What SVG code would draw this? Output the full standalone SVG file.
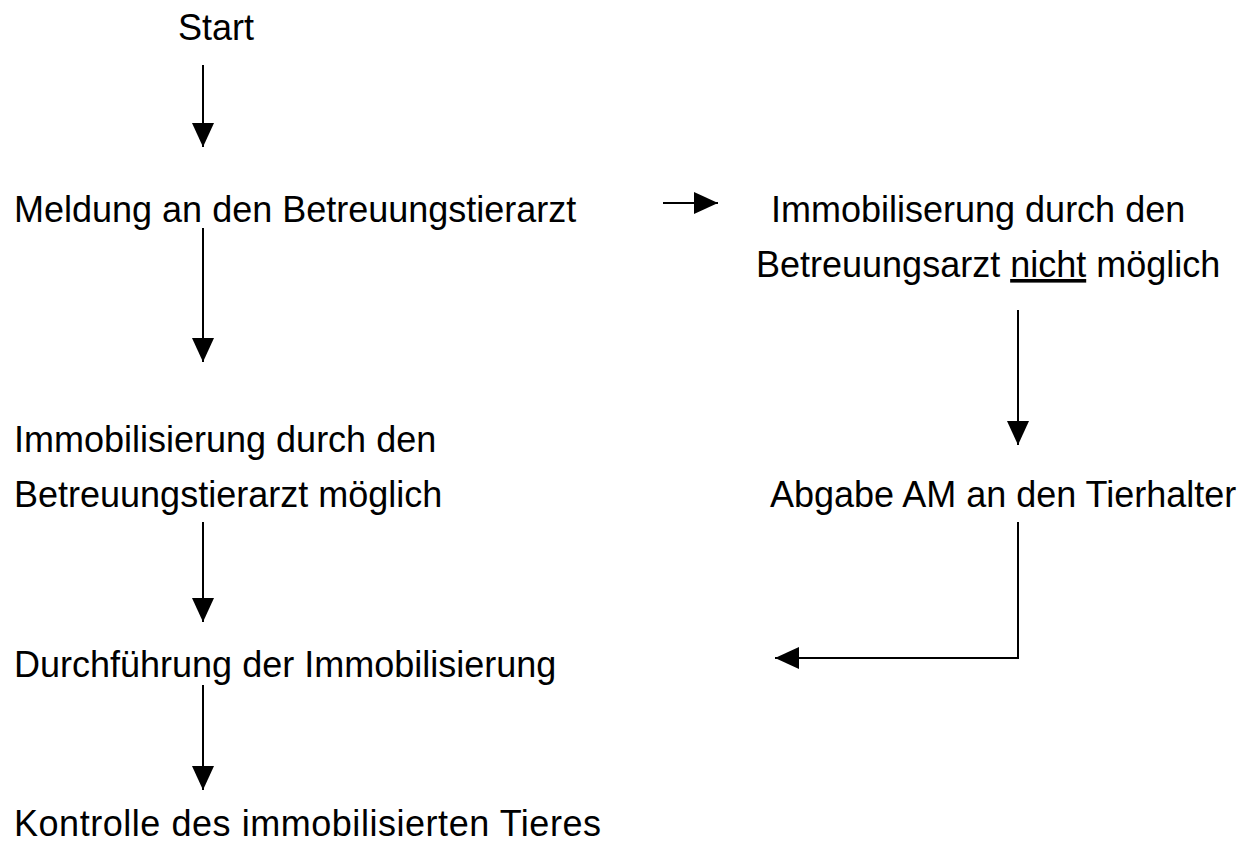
<svg xmlns="http://www.w3.org/2000/svg" width="1255" height="846" viewBox="0 0 1255 846">
<style>
  text { font-family: "Liberation Sans", Arial, sans-serif; font-size: 36px; fill: #000; }
  .c { fill: none; stroke: #000; stroke-width: 2; marker-end: url(#ah); }
  .u { text-decoration: underline; }
</style>
<defs>
  <marker id="ah" viewBox="0 0 24 22" refX="24" refY="11" markerWidth="24" markerHeight="22" markerUnits="userSpaceOnUse" orient="auto">
    <path d="M0,0 L24,11 L0,22 Z" fill="#000"/>
  </marker>
</defs>
<rect width="1255" height="846" fill="#fff"/>
<g id="start"><text x="178" y="40">Start</text></g>
<g id="meldung"><text x="14" y="222">Meldung an den Betreuungstierarzt</text></g>
<g id="nichtmoeglich">
  <text x="771" y="222">Immobiliserung durch den</text>
  <text x="756" y="277">Betreuungsarzt <tspan class="u">nicht</tspan> möglich</text>
</g>
<g id="moeglich">
  <text x="14" y="452">Immobilisierung durch den</text>
  <text x="14" y="507">Betreuungstierarzt möglich</text>
</g>
<g id="abgabe"><text x="770" y="507">Abgabe AM an den Tierhalter</text></g>
<g id="durchfuehrung"><text x="14" y="677">Durchführung der Immobilisierung</text></g>
<g id="kontrolle"><text x="14" y="836" textLength="587" lengthAdjust="spacing">Kontrolle des immobilisierten Tieres</text></g>
<g id="connectors">
  <path class="c" d="M203,65 V147"/>
  <path class="c" d="M663,203 H718"/>
  <path class="c" d="M203,228 V362"/>
  <path class="c" d="M1018,310 V445"/>
  <path class="c" d="M203,522 V622"/>
  <path class="c" d="M1018,522 V658 H775"/>
  <path class="c" d="M203,685 V790"/>
</g>
</svg>
